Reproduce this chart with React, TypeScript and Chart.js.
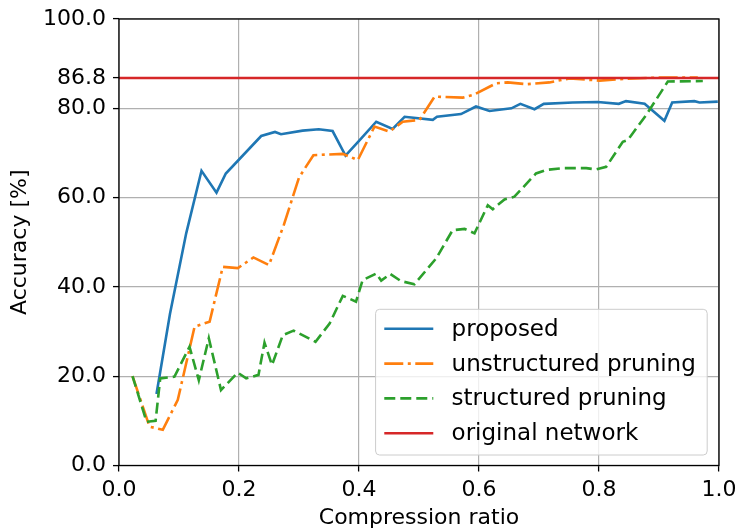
import React, { useEffect, useRef } from "react";
import { Chart, registerables } from "chart.js";

Chart.register(...registerables);

// ---------- data ----------
const proposedX = [0.0625, 0.085, 0.112, 0.1375, 0.1625, 0.178, 0.237, 0.26, 0.27, 0.306, 0.333, 0.356, 0.3775, 0.4, 0.4287, 0.456, 0.476, 0.523, 0.53, 0.57, 0.595, 0.6175, 0.654, 0.669, 0.6925, 0.708, 0.756, 0.798, 0.833, 0.845, 0.876, 0.909, 0.922, 0.959, 0.9675, 0.998];
const proposedY = [16.0, 34.0, 52.0, 66.0, 61.1, 65.4, 73.8, 74.7, 74.2, 75.0, 75.3, 74.9, 69.4, 72.7, 77.0, 75.4, 78.1, 77.4, 78.1, 78.7, 80.4, 79.4, 80.0, 81.0, 79.8, 81.0, 81.3, 81.4, 81.0, 81.6, 81.0, 77.2, 81.3, 81.6, 81.3, 81.5];

const unstructuredX = [0.0225, 0.051, 0.073, 0.098, 0.126, 0.151, 0.173, 0.198, 0.224, 0.25, 0.275, 0.3, 0.324, 0.373, 0.398, 0.4258, 0.4508, 0.473, 0.5008, 0.526, 0.573, 0.5925, 0.6287, 0.648, 0.679, 0.7175, 0.751, 0.801, 0.845, 0.9008, 0.9647];
const unstructuredY = [20.0, 8.7, 8.0, 14.7, 31.1, 32.2, 44.5, 44.2, 46.6, 44.9, 54.0, 64.5, 69.5, 69.8, 68.4, 75.9, 74.8, 77.0, 77.4, 82.6, 82.4, 83.1, 85.6, 85.8, 85.4, 85.8, 86.7, 86.2, 86.6, 86.9, 86.9];

const structuredX = [0.0225, 0.046, 0.061, 0.0687, 0.0925, 0.1175, 0.133, 0.1497, 0.17, 0.198, 0.212, 0.2325, 0.2425, 0.255, 0.273, 0.291, 0.3275, 0.351, 0.373, 0.395, 0.406, 0.4287, 0.437, 0.452, 0.47, 0.4925, 0.5287, 0.556, 0.576, 0.5925, 0.6147, 0.623, 0.6425, 0.659, 0.695, 0.712, 0.7397, 0.7787, 0.795, 0.812, 0.8397, 0.848, 0.8787, 0.9147, 0.973];
const structuredY = [20.0, 9.8, 10.0, 19.5, 19.9, 26.6, 19.1, 28.5, 16.9, 20.8, 19.5, 20.3, 27.5, 22.5, 29.2, 30.2, 27.7, 31.8, 38.0, 36.7, 41.5, 43.0, 41.4, 42.9, 41.3, 40.6, 46.4, 52.7, 53.0, 52.0, 58.3, 57.4, 59.6, 60.2, 65.4, 66.2, 66.6, 66.6, 66.3, 66.9, 72.5, 72.9, 78.5, 86.0, 86.1];

const originalX = [0.0, 1.0];
const originalY = [86.8, 86.8];

const xTicks = [0.0, 0.2, 0.4, 0.6, 0.8, 1.0];
const yTicks = [0.0, 20.0, 40.0, 60.0, 80.0, 86.8, 100.0];

const seriesLabels = ["proposed", "unstructured pruning", "structured pruning", "original network"];
const seriesColors = ["#1f77b4", "#ff7f0e", "#2ca02c", "#d62728"];

const LW = 2.6;
const DASH_DOT = [19, 4.5, 3, 4.5];
const DASHED = [11, 5];
const seriesDashes: number[][] = [[], DASH_DOT, DASHED, []];

const FONT = '"DejaVu Sans", sans-serif';

const toPoints = (xs: number[], ys: number[]) => xs.map((x, i) => ({ x, y: ys[i] }));

const framePlugin = {
  id: "frameAndLegend",
  afterDatasetsDraw(chart: any) {
    const ctx = chart.ctx as CanvasRenderingContext2D;
    const ca = chart.chartArea;
    ctx.save();
    // spines
    ctx.strokeStyle = "#000";
    ctx.lineWidth = 1.3;
    ctx.setLineDash([]);
    ctx.strokeRect(ca.left, ca.top, ca.right - ca.left, ca.bottom - ca.top);

    // legend
    ctx.font = `23px ${FONT}`;
    const textW = Math.max(...seriesLabels.map((l) => ctx.measureText(l).width));
    const padL = 8.7, handle = 49, gap = 18.3, padR = 11.4;
    const w = padL + handle + gap + textW + padR;
    const h = 145.7;
    const bx = ca.right - 11.8 - w;
    const by = ca.bottom - 10.5 - h;
    ctx.beginPath();
    (ctx as any).roundRect(bx, by, w, h, 4);
    ctx.fillStyle = "rgba(255,255,255,0.8)";
    ctx.fill();
    ctx.strokeStyle = "#cccccc";
    ctx.lineWidth = 1;
    ctx.stroke();
    seriesLabels.forEach((label, i) => {
      const cy = by + 19.5 + i * 34.8;
      ctx.beginPath();
      ctx.strokeStyle = seriesColors[i];
      ctx.lineWidth = LW;
      ctx.lineCap = "butt";
      ctx.setLineDash(seriesDashes[i]);
      ctx.moveTo(bx + padL, cy);
      ctx.lineTo(bx + padL + handle, cy);
      ctx.stroke();
      ctx.setLineDash([]);
      ctx.fillStyle = "#000";
      ctx.textBaseline = "middle";
      ctx.textAlign = "left";
      ctx.fillText(label, bx + padL + handle + gap, cy + 1);
    });
    ctx.restore();
  },
};

export default function App() {
  const canvasRef = useRef<HTMLCanvasElement | null>(null);

  useEffect(() => {
    const canvas = canvasRef.current;
    if (!canvas) return;
    const seriesData = [
      toPoints(proposedX, proposedY),
      toPoints(unstructuredX, unstructuredY),
      toPoints(structuredX, structuredY),
      toPoints(originalX, originalY),
    ];
    const chart = new Chart(canvas, {
      type: "line",
      data: {
        datasets: seriesData.map((d, i) => ({
          label: seriesLabels[i],
          data: d,
          borderColor: seriesColors[i],
          backgroundColor: seriesColors[i],
          borderWidth: LW,
          borderDash: seriesDashes[i],
          pointRadius: 0,
          tension: 0,
          fill: false,
          order: 3 - i,
        })),
      },
      options: {
        responsive: false,
        animation: false,
        events: [],
        layout: { padding: { left: 0, right: 20, top: 19, bottom: 0 } },
        plugins: { legend: { display: false }, tooltip: { enabled: false } },
        scales: {
          x: {
            type: "linear",
            min: 0,
            max: 1,
            afterBuildTicks: (s: any) => {
              s.ticks = xTicks.map((v) => ({ value: v }));
            },
            afterFit: (s: any) => {
              s.height = 65.5;
              s.paddingLeft = 0;
              s.paddingRight = 0;
            },
            ticks: {
              color: "#000",
              font: { family: FONT, size: 22 },
              padding: 6,
              maxRotation: 0,
              autoSkip: false,
              callback: (v: any) => Number(v).toFixed(1),
            },
            grid: { color: "#b0b0b0", lineWidth: 1.2, tickColor: "#000", tickLength: 6, tickWidth: 1.3 },
            border: { display: false },
            title: {
              display: true,
              text: "Compression ratio",
              color: "#000",
              font: { family: FONT, size: 22 },
              padding: { top: 0, bottom: 0 },
            },
          },
          y: {
            type: "linear",
            min: 0,
            max: 100,
            afterBuildTicks: (s: any) => {
              s.ticks = yTicks.map((v) => ({ value: v }));
            },
            afterFit: (s: any) => {
              s.width = 119;
              s.paddingTop = 0;
              s.paddingBottom = 0;
            },
            ticks: {
              color: "#000",
              font: { family: FONT, size: 22 },
              padding: 7,
              autoSkip: false,
              callback: (v: any) => Number(v).toFixed(1),
            },
            grid: { color: "#b0b0b0", lineWidth: 1.2, tickColor: "#000", tickLength: 6, tickWidth: 1.3 },
            border: { display: false },
            title: {
              display: true,
              text: "Accuracy [%]",
              color: "#000",
              font: { family: FONT, size: 22 },
              padding: { top: 7, bottom: 0 },
            },
          },
        },
      },
      plugins: [framePlugin],
    } as any);
    return () => chart.destroy();
  }, []);

  return (
    <div style={{ position: "fixed", left: 0, top: 0, width: 739, height: 531, background: "#fff" }}>
      <canvas ref={canvasRef} width={739} height={531} style={{ display: "block" }} />
    </div>
  );
}
